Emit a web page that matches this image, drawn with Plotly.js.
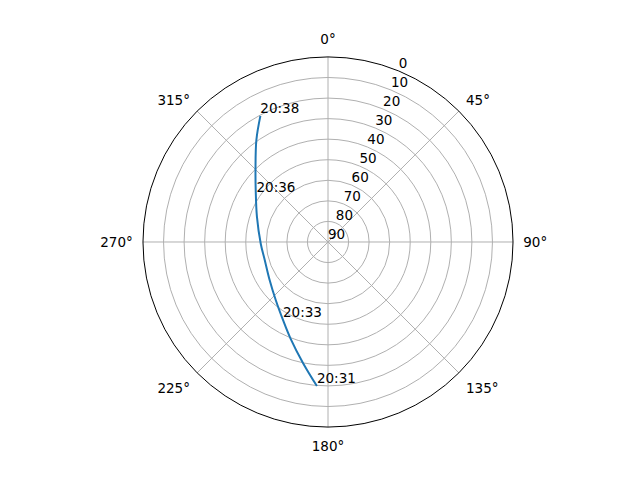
<!DOCTYPE html>
<html>
<head>
<meta charset="utf-8">
<script src="https://cdn.plot.ly/plotly-3.0.1.min.js"></script>
<style>
  html, body { margin: 0; padding: 0; background: #fff; }
  #chart { width: 640px; height: 480px; }
</style>
</head>
<body>
<div id="chart"></div>
<script>
// satellite pass track: azimuth (deg, clockwise from N) and elevation (deg)
const azimuth = [184.4, 191.6, 201.3, 210.0, 222.0, 236.9, 254.1, 268.3, 289.6, 305.7, 314.8, 324.9, 331.8];
const elevation = [19.7, 29.8, 39.7, 46.2, 52.0, 56.1, 58.0, 57.3, 53.3, 46.7, 40.3, 29.4, 20.4];

// time labels along the track
const labelTimes = ["20:31", "20:33", "20:36", "20:38"];
const labelAz = [184.4, 210.0, 303.3, 331.8];
const labelEl = [19.7, 46.2, 48.4, 20.4];

const radialTicks = [0, 10, 20, 30, 40, 50, 60, 70, 80, 90];
const radialLabelAngle = 22.5;
const angularTicks = [0, 45, 90, 135, 180, 225, 270, 315];
const angularLabels = angularTicks.map((a) => a + "°");

const font = { family: "DejaVu Sans, sans-serif", size: 13.5, color: "#000" };

const data = [
  {
    type: "scatterpolar",
    mode: "lines",
    theta: azimuth,
    r: elevation,
    line: { color: "#1f77b4", width: 2, shape: "spline", smoothing: 1 },
    hoverinfo: "skip",
  },
  {
    type: "scatterpolar",
    mode: "text",
    theta: labelAz,
    r: labelEl,
    text: labelTimes,
    textposition: "top right",
    textfont: font,
    hoverinfo: "skip",
  },
  {
    // radial tick labels, horizontal, along the 22.5° line
    type: "scatterpolar",
    mode: "text",
    theta: radialTicks.map(() => radialLabelAngle),
    r: radialTicks,
    text: radialTicks.map(String),
    textposition: "top right",
    textfont: font,
    cliponaxis: false,
    hoverinfo: "skip",
  },
];

const layout = {
  width: 640,
  height: 480,
  showlegend: false,
  margin: { l: 0, r: 0, t: 0, b: 0 },
  paper_bgcolor: "#fff",
  font: font,
  polar: {
    domain: { x: [0.2234, 0.8016], y: [0.1104, 0.8813] },
    bgcolor: "#fff",
    angularaxis: {
      rotation: 90,
      direction: "clockwise",
      tickmode: "array",
      tickvals: angularTicks,
      ticktext: angularLabels,
      ticks: "outside",
      ticklen: 7,
      tickcolor: "rgba(0,0,0,0)",
      showline: true,
      linecolor: "#000",
      linewidth: 1,
      gridcolor: "#b0b0b0",
      gridwidth: 1,
      tickfont: font,
    },
    radialaxis: {
      range: [90, 0],
      tickvals: radialTicks,
      showticklabels: false,
      showline: false,
      ticks: "",
      gridcolor: "#b0b0b0",
      gridwidth: 1,
    },
  },
};

Plotly.newPlot("chart", data, layout, { staticPlot: true });
</script>
</body>
</html>
